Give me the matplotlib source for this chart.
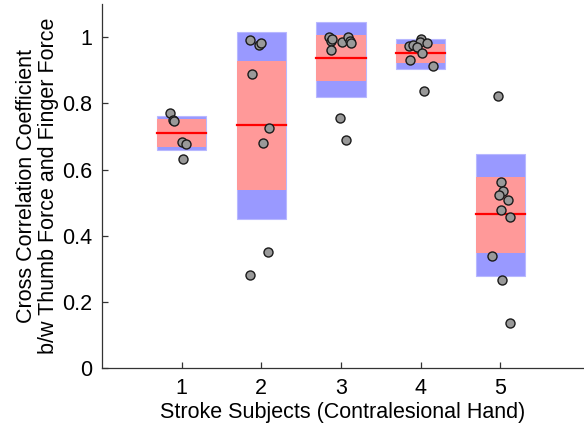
import numpy as np
import matplotlib
matplotlib.use("Agg")
import matplotlib.pyplot as plt
from matplotlib.patches import Rectangle

plt.rcParams['font.family'] = ['Liberation Sans', 'DejaVu Sans']

# per-subject summary: mean, inner (red) band and outer (blue) band
subjects = [1, 2, 3, 4, 5]
means = [0.711, 0.735, 0.936, 0.951, 0.465]
red_lo = [0.668, 0.538, 0.866, 0.921, 0.347]
red_hi = [0.752, 0.927, 1.005, 0.978, 0.576]
blue_lo = [0.658, 0.450, 0.820, 0.904, 0.278]
blue_hi = [0.763, 1.016, 1.047, 0.995, 0.647]

# individual trials (value, horizontal jitter)
vals = [
    [0.771, 0.749, 0.747, 0.682, 0.677, 0.631],
    [0.991, 0.976, 0.981, 0.888, 0.724, 0.681, 0.350, 0.280],
    [0.999, 0.989, 0.993, 0.961, 0.985, 0.999, 0.989, 0.983, 0.755, 0.689],
    [0.995, 0.986, 0.973, 0.976, 0.971, 0.981, 0.951, 0.930, 0.913, 0.837],
    [0.821, 0.561, 0.535, 0.523, 0.508, 0.477, 0.455, 0.339, 0.266, 0.135],
]
jitter = [
    [-0.143, -0.113, -0.097, 0.000, 0.054, 0.020],
    [-0.143, -0.030, 0.000, -0.118, 0.100, 0.024, 0.087, -0.143],
    [-0.148, -0.130, -0.114, -0.127, 0.008, 0.090, 0.112, 0.124, -0.014, 0.058],
    [-0.001, -0.010, -0.144, -0.094, -0.044, 0.074, 0.011, -0.135, 0.149, 0.040],
    [-0.028, 0.003, 0.035, -0.015, 0.098, 0.003, 0.119, -0.110, 0.015, 0.119],
]

box_w = 0.62
fs = 15.5

fig = plt.figure(figsize=(5.84, 4.26), dpi=100)
ax = fig.add_axes([0.1747, 0.136, 0.8253, 0.8545])

for i, s in enumerate(subjects):
    ax.add_patch(Rectangle((s - box_w / 2, blue_lo[i]), box_w, blue_hi[i] - blue_lo[i],
                           facecolor='#9999ff', edgecolor='#b8b8ff', lw=0.8, zorder=1))
    ax.add_patch(Rectangle((s - box_w / 2, red_lo[i]), box_w, red_hi[i] - red_lo[i],
                           facecolor='#ff9999', edgecolor='none', zorder=2))
    ax.plot([s - box_w / 2, s + box_w / 2], [means[i], means[i]], color='#ff0000', lw=1.6, zorder=3)
    xs = s + np.array(jitter[i])
    ax.plot(xs, vals[i], 'o', ms=6.5, mfc='#999999', mec='#1a1a1a', mew=1.0, zorder=4)

ax.set_xlim(0, 6.05)
ax.set_ylim(0, 1.1)
ax.set_xticks(subjects)
ax.set_xticklabels([str(s) for s in subjects])
yt = [0, 0.2, 0.4, 0.6, 0.8, 1.0]
ax.set_yticks(yt)
ax.set_yticklabels(['0', '0.2', '0.4', '0.6', '0.8', '1'])
for side in ['top', 'right']:
    ax.spines[side].set_visible(False)
for side in ['left', 'bottom']:
    ax.spines[side].set_color('#333333')
    ax.spines[side].set_linewidth(0.9)
ax.tick_params(direction='in', length=4, width=0.9, color='#333333', labelsize=fs, pad=7)

ax.set_xlabel('Stroke Subjects (Contralesional Hand)', fontsize=fs, labelpad=2)
ax.set_ylabel('Cross Correlation Coefficient\nb/w Thumb Force and Finger Force',
              fontsize=fs, linespacing=1.08, labelpad=2)

fig.savefig('out.png', dpi=100)
